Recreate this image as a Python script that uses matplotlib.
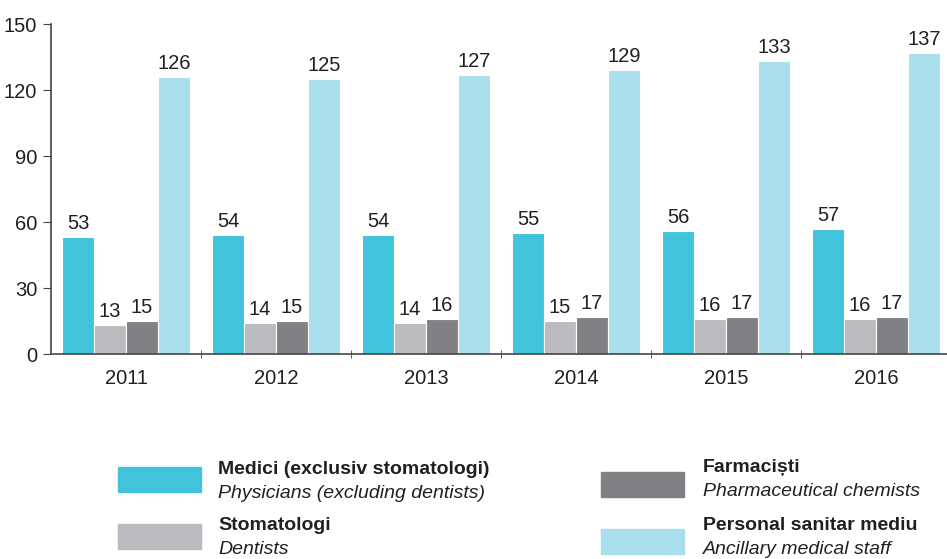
import matplotlib
matplotlib.use('Agg')
import matplotlib.pyplot as plt
from matplotlib.patches import Rectangle
import numpy as np

plt.rcParams['font.family'] = ['Liberation Sans', 'DejaVu Sans']

years = ['2011', '2012', '2013', '2014', '2015', '2016']
medici = [53, 54, 54, 55, 56, 57]
stomatologi = [13, 14, 14, 15, 16, 16]
farmacisti = [15, 15, 16, 17, 17, 17]
personal = [126, 125, 127, 129, 133, 137]

series = [medici, stomatologi, farmacisti, personal]
colors = ['#42C3DC', '#BBBCC0', '#808185', '#A9DFEC']
labels_ro = ['Medici (exclusiv stomatologi)', 'Stomatologi', 'Farmaciști', 'Personal sanitar mediu']
labels_en = ['Physicians (excluding dentists)', 'Dentists', 'Pharmaceutical chemists', 'Ancillary medical staff']

W, H = 947, 559
fig = plt.figure(figsize=(W / 100, H / 100), dpi=100)
ax = fig.add_axes([51 / W, (H - 354) / H, (W - 51) / W, 330 / H])

x = np.arange(len(years))
bw = 32 / 150
offsets = [-1.5 * bw, -0.5 * bw, 0.5 * bw, 1.5 * bw]
text_col = '#231F20'

for vals, off, c in zip(series, offsets, colors):
    bars = ax.bar(x + off, vals, width=bw, color=c, edgecolor='white', linewidth=0.8)
    for b, v in zip(bars, vals):
        ax.text(b.get_x() + b.get_width() / 2, v + 1.8, str(v), ha='center', va='bottom',
                fontsize=14.5, color=text_col)

ax.set_xlim(-0.5, -0.5 + (W - 51) / 150)
ax.set_ylim(0, 150)
ax.set_yticks([0, 30, 60, 90, 120, 150])
ax.set_xticks(x)
ax.set_xticklabels(years)
ax.set_xticks(np.arange(0.5, 5.5, 1), minor=True)
ax.tick_params(axis='x', which='major', length=0, labelsize=14.5, colors=text_col, pad=11)
ax.tick_params(axis='x', which='minor', length=6, direction='inout', color='#444444')
ax.tick_params(axis='y', length=6, labelsize=14.5, colors=text_col, color='#444444', pad=4)
for s in ['top', 'right']:
    ax.spines[s].set_visible(False)
for s in ['left', 'bottom']:
    ax.spines[s].set_color('#444444')
    ax.spines[s].set_linewidth(1.2)

# legend: (patch x, patch top y, text x, text row y) in pixels
legend_pos = [(118, 467, 218, 470), (118, 524, 218, 526), (601, 472, 703, 468), (601, 529, 703, 526)]
for (px, py, tx, ty), c, ro, en in zip(legend_pos, colors, labels_ro, labels_en):
    fig.patches.append(Rectangle((px / W, (H - py - 25) / H), 83 / W, 25 / H,
                                 transform=fig.transFigure, color=c))
    fig.text(tx / W, (H - ty) / H, ro, fontsize=14, fontweight='bold',
             color=text_col, va='center', ha='left')
    fig.text(tx / W, (H - ty - 23) / H, en, fontsize=14, style='italic',
             color=text_col, va='center', ha='left')

fig.savefig('out.png', dpi=100)
